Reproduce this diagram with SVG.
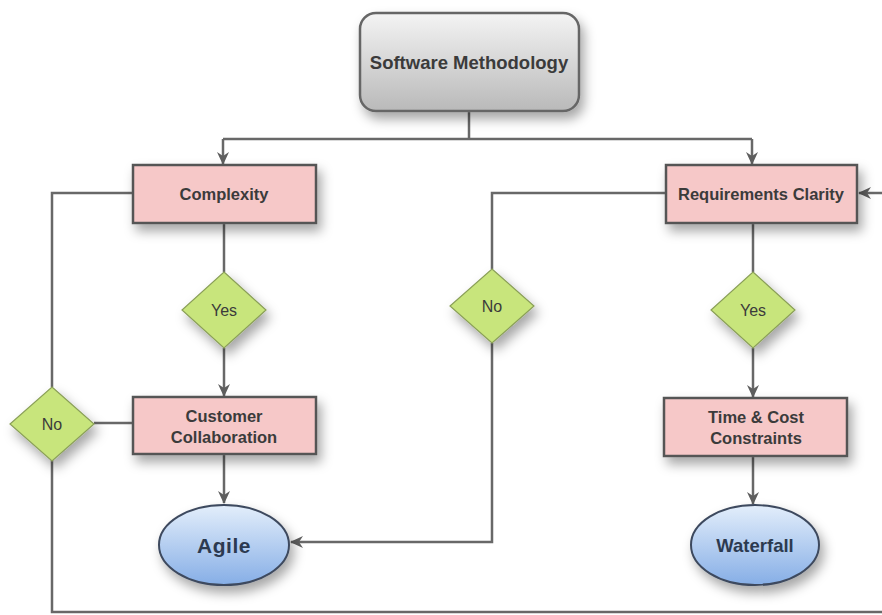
<svg xmlns="http://www.w3.org/2000/svg" width="882" height="615" viewBox="0 0 882 615">
<defs>
<linearGradient id="gTop" x1="0" y1="0" x2="0" y2="1"><stop offset="0" stop-color="#f4f4f4"/><stop offset="1" stop-color="#b9b9b9"/></linearGradient>
<linearGradient id="gBlue" x1="0" y1="0" x2="0" y2="1"><stop offset="0" stop-color="#e3eefb"/><stop offset="1" stop-color="#86aee6"/></linearGradient>
<filter id="sh" x="-30%" y="-30%" width="170%" height="180%"><feDropShadow dx="4" dy="7" stdDeviation="6" flood-color="#000" flood-opacity="0.35"/></filter>
<marker id="ar" markerWidth="14" markerHeight="12" refX="12" refY="6" orient="auto" markerUnits="userSpaceOnUse"><path d="M0,0 L13,6 L0,12 L4,6 Z" fill="#5e5e5e"/></marker>
<style>
.ln{fill:none;stroke:#686868;stroke-width:2.5}
.box{fill:#f6c8c8;stroke:#555;stroke-width:2.5}
.dia{fill:#c8e57c;stroke:#8a9f58;stroke-width:1.2}
.ell{fill:url(#gBlue);stroke:#3e4a5e;stroke-width:2}
.t{font-family:"Liberation Sans",Arial,sans-serif;font-weight:bold;font-size:16.5px;fill:#3b3b3b;text-anchor:middle}
.d{font-family:"Liberation Sans",Arial,sans-serif;font-size:16px;fill:#3b3b3b;text-anchor:middle}
.e{font-family:"Liberation Sans",Arial,sans-serif;font-weight:bold;font-size:18.5px;fill:#2c3a50;text-anchor:middle}
</style>
</defs>
<rect width="882" height="615" fill="#ffffff"/>
<g id="connectors">
<path class="ln" d="M469,112 V139"/>
<path class="ln" d="M223,139 H752"/>
<path class="ln" d="M223,139 V164" marker-end="url(#ar)"/>
<path class="ln" d="M752,139 V164" marker-end="url(#ar)"/>
<path class="ln" d="M133,193 H52 V387"/>
<path class="ln" d="M224,223 V272"/>
<path class="ln" d="M224,348 V396" marker-end="url(#ar)"/>
<path class="ln" d="M94,423 H133"/>
<path class="ln" d="M224,454 V503" marker-end="url(#ar)"/>
<path class="ln" d="M52,460 V612 H886 V193" />
<path class="ln" d="M886,193 H859" marker-end="url(#ar)"/>
<path class="ln" d="M666,193 H492 V269"/>
<path class="ln" d="M492,343 V542 H291" marker-end="url(#ar)"/>
<path class="ln" d="M753,223 V272"/>
<path class="ln" d="M753,348 V397" marker-end="url(#ar)"/>
<path class="ln" d="M753,456 V504" marker-end="url(#ar)"/>
</g>
<g id="software-methodology">
<rect x="360" y="13" width="219" height="98" rx="16" fill="url(#gTop)" stroke="#666" stroke-width="2.5" filter="url(#sh)"/>
<text x="469" y="69" class="t" style="font-size:18.5px">Software Methodology</text>
</g>
<g id="complexity">
<rect x="133" y="165" width="183" height="58" class="box" filter="url(#sh)"/>
<text x="224" y="200" class="t">Complexity</text>
</g>
<g id="requirements-clarity">
<rect x="666" y="165" width="191" height="58" class="box" filter="url(#sh)"/>
<text x="761" y="200" class="t">Requirements Clarity</text>
</g>
<g id="yes-left">
<polygon points="224,272 266,310 224,348 182,310" class="dia" filter="url(#sh)"/>
<text x="224" y="316" class="d">Yes</text>
</g>
<g id="no-middle">
<polygon points="492,269 534,306 492,343 450,306" class="dia" filter="url(#sh)"/>
<text x="492" y="312" class="d">No</text>
</g>
<g id="yes-right">
<polygon points="753,272 795,310 753,348 711,310" class="dia" filter="url(#sh)"/>
<text x="753" y="316" class="d">Yes</text>
</g>
<g id="no-left">
<polygon points="52,387 94,424 52,461 10,424" class="dia" filter="url(#sh)"/>
<text x="52" y="430" class="d">No</text>
</g>
<g id="customer-collaboration">
<rect x="133" y="397" width="183" height="57" class="box" filter="url(#sh)"/>
<text x="224" y="422" class="t">Customer</text>
<text x="224" y="443" class="t">Collaboration</text>
</g>
<g id="time-cost">
<rect x="664" y="398" width="183" height="58" class="box" filter="url(#sh)"/>
<text x="756" y="423" class="t">Time &amp; Cost</text>
<text x="756" y="444" class="t">Constraints</text>
</g>
<g id="agile">
<ellipse cx="224" cy="545" rx="65" ry="40" class="ell" filter="url(#sh)"/>
<text x="224" y="553" class="e" style="font-size:21px;letter-spacing:0.5px">Agile</text>
</g>
<g id="waterfall">
<ellipse cx="755" cy="545" rx="64" ry="40" class="ell" filter="url(#sh)"/>
<text x="755" y="552" class="e">Waterfall</text>
</g>
</svg>
